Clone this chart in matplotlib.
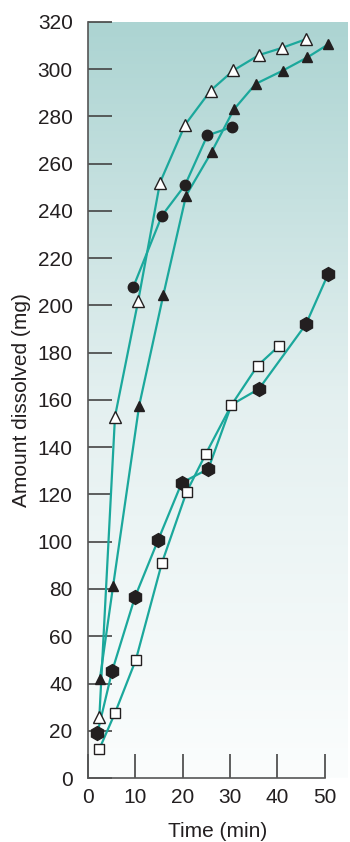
import numpy as np
import matplotlib
matplotlib.use("Agg")
import matplotlib.pyplot as plt
from matplotlib.colors import LinearSegmentedColormap

plt.rcParams['font.family'] = ['Liberation Sans', 'DejaVu Sans']

# open triangles
t_open = [2.4, 5.7, 10.6, 15.2, 20.5, 25.9, 30.7, 36.1, 40.9, 46.0]
y_open = [26, 153, 202, 252, 276.5, 291, 299.5, 306, 309, 312.7]

# filled triangles
t_tri = [2.5, 5.3, 10.8, 15.9, 20.7, 26.1, 30.8, 35.4, 41.1, 46.3, 50.7]
y_tri = [41.8, 81.3, 157.6, 204.4, 246.5, 265, 283, 293.8, 299.4, 305, 310.5]

# filled circles
t_circ = [9.6, 15.6, 20.5, 25.2, 30.5]
y_circ = [208, 238, 251, 272, 275.6]

# hexagons (the point at 30 min sits under a square)
t_hex = [2.0, 5.1, 9.9, 14.8, 19.8, 25.4, 30.3, 36.1, 46.0, 50.7]
y_hex = [19.2, 45.3, 76.5, 100.7, 125, 130.8, 158, 164.7, 192, 213.3]
hex_shown = [0, 1, 2, 3, 4, 5, 7, 8, 9]

# open squares
t_sq = [2.4, 5.7, 10.1, 15.6, 20.8, 24.9, 30.3, 35.8, 40.4]
y_sq = [12.3, 27.5, 50, 91, 121, 137.3, 157.9, 174.5, 183]

teal = '#1ba89c'
dark = '#231f20'

fig = plt.figure(figsize=(3.5, 8.42), dpi=100)
ax = fig.add_axes([88/350, 64/842, 260/350, 756/842])

xmax, ymax = 54.9, 320
# background gradient
cmap = LinearSegmentedColormap.from_list('bg', ['#fbfdfd', '#e4f0f0', '#acd4d2'])
grad = np.linspace(0, 1, 256).reshape(-1, 1)
ax.imshow(grad, aspect='auto', cmap=cmap, origin='lower',
          extent=[0, xmax, 0, ymax], zorder=0)

ax.plot(t_hex, y_hex, color=teal, lw=1.6, zorder=2)
ax.plot(t_sq, y_sq, color=teal, lw=1.6, zorder=2)
ax.plot(t_circ, y_circ, color=teal, lw=1.6, zorder=2)
ax.plot(t_tri, y_tri, color=teal, lw=1.6, zorder=2)
ax.plot(t_open, y_open, color=teal, lw=1.6, zorder=2)

ax.plot(t_hex, y_hex, 'h', ms=10, color=dark, mec=dark, ls='none',
        markevery=hex_shown, zorder=3)
ax.plot(t_sq, y_sq, 's', ms=7.5, mfc='white', mec=dark, mew=1.0, ls='none', zorder=4)
ax.plot(t_circ, y_circ, 'o', ms=7.5, color=dark, ls='none', zorder=3)
ax.plot(t_tri, y_tri, '^', ms=7.5, color=dark, ls='none', zorder=3)
ax.plot(t_open, y_open, '^', ms=9, mfc='white', mec=dark, mew=1.0, ls='none', zorder=4)

ax.set_xlim(0, xmax)
ax.set_ylim(0, ymax)
ax.set_xticks(range(0, 51, 10))
ax.set_yticks(range(0, 321, 20))

for s in ['top', 'right']:
    ax.spines[s].set_visible(False)
ax.spines['bottom'].set_bounds(0, 50)
for s in ['left', 'bottom']:
    ax.spines[s].set_color('#555555')
    ax.spines[s].set_linewidth(1.2)

ax.tick_params(axis='both', direction='in', length=17, width=1.2,
               color='#444444', labelsize=15, labelcolor='#231f20')
ax.tick_params(axis='y', pad=11)
ax.tick_params(axis='x', pad=7)

ax.set_xlabel('Time (min)', fontsize=15, color='#231f20', labelpad=11)
ax.set_ylabel('Amount dissolved (mg)', fontsize=15, color='#231f20', labelpad=5)

fig.savefig('out.png', dpi=100)
